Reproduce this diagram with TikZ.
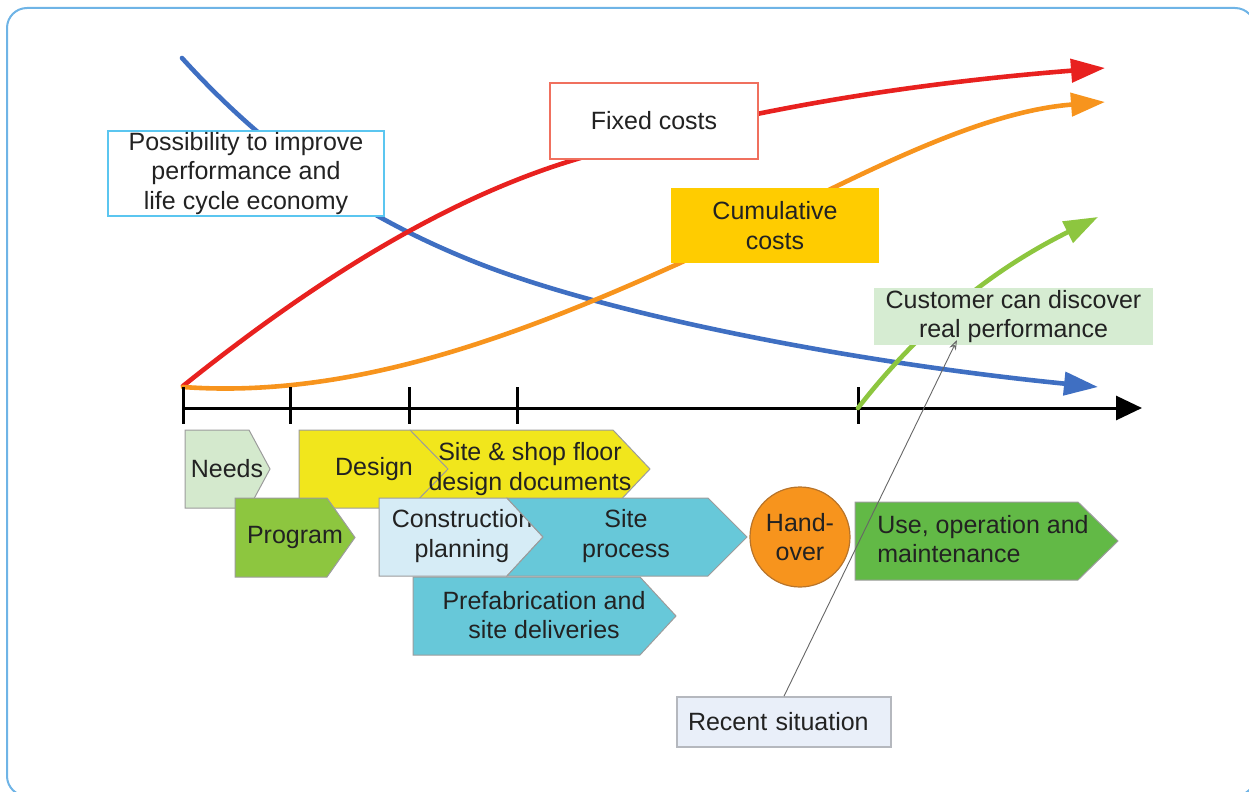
\documentclass[tikz,border=0pt]{standalone}
\usepackage{fontspec}
\setmainfont{Liberation Sans}
\usetikzlibrary{arrows.meta}

\definecolor{framecol}{HTML}{6FB4E6}
\definecolor{txt}{HTML}{222222}
\definecolor{cblue}{HTML}{3F6FC2}
\definecolor{cred}{HTML}{E8211F}
\definecolor{corange}{HTML}{F7941D}
\definecolor{cgreen}{HTML}{8DC63F}
\definecolor{possline}{HTML}{5BC6F0}
\definecolor{fixline}{HTML}{F0705E}
\definecolor{cumfill}{HTML}{FFCC00}
\definecolor{custfill}{HTML}{D6ECD2}
\definecolor{recfill}{HTML}{E9EFF9}
\definecolor{recline}{HTML}{B5B8BE}
\definecolor{needsfill}{HTML}{D4E9CD}
\definecolor{yellowfill}{HTML}{F1E61C}
\definecolor{progfill}{HTML}{8DC63F}
\definecolor{consfill}{HTML}{D6ECF6}
\definecolor{tealfill}{HTML}{67C8D9}
\definecolor{handfill}{HTML}{F7941D}
\definecolor{handline}{HTML}{B8742A}
\definecolor{usefill}{HTML}{62B946}
\definecolor{edge}{HTML}{9C9C9C}

\newcommand\labelfont{\fontsize{12.5}{14.8}\selectfont}

\begin{document}
\begin{tikzpicture}[x=0.5pt,y=-0.5pt,
  every node/.style={font=\labelfont, text=txt, inner sep=0pt},
  frame/.style={draw=framecol, line width=1pt, rounded corners=10pt},
  curve/.style={line width=2.3pt, line cap=round,
    -{Triangle[length=17pt,width=11.5pt]}},
  axisline/.style={line width=1.5pt, black,
    -{Triangle[length=13pt,width=12pt]}},
  tick/.style={line width=1.5pt, black},
  phase/.style={draw=edge, line width=0.5pt},
  labelbox/.style={rectangle, align=center, line width=0.8pt},
  leader/.style={draw=gray!80!black, line width=0.45pt,
    -{Stealth[length=5pt,width=3.5pt,open]}}
]
\clip (0,0) rectangle (1249,792);
\useasboundingbox (0,0) rectangle (1249,792);

% outer frame
\draw[frame] (7,8) rectangle (1255,796);

% cost and performance curves
\draw[curve, cblue] (182,58) .. controls (278,164) and (374,221) .. (470,260)
  .. controls (600,313) and (848,362) .. (1098,387);
\draw[curve, cred] (183,386) .. controls (314,281) and (446,198) .. (577,159)
  .. controls (753,106) and (929,82) .. (1105,68);
\draw[curve, corange] (183,387) .. controls (349,399) and (514,338) .. (680,263)
  .. controls (822,196) and (963,113) .. (1105,102);

% time axis with milestones
\coordinate (a0) at (182,408);
\coordinate (aend) at (1142,408);
\draw[axisline] (a0) -- (aend);
\foreach \x in {183,290,409,517,858}{
  \draw[tick] (\x,387) -- (\x,424);
}
\coordinate (g0) at (858,408);
\coordinate (g1) at (1098,217);
\draw[curve, cgreen] (g0) .. controls (938,305) and (1018,257) .. (g1);

% curve labels
\node[labelbox, draw=possline, fill=white, minimum width=138pt, minimum height=42.5pt]
  (poss) at (246,173.5) {Possibility to improve\\performance and\\life cycle economy};
\node[labelbox, draw=fixline, fill=white, minimum width=104pt, minimum height=38pt]
  (fixed) at (654,121) {Fixed costs};
\node[labelbox, fill=cumfill, minimum width=104pt, minimum height=37.5pt]
  (cum) at (775,225.5) {Cumulative\\costs};
\node[labelbox, fill=custfill, minimum width=139.5pt, minimum height=28.5pt]
  (cust) at (1013.5,316.5) {Customer can discover\\real performance};

% project phases
\filldraw[phase, fill=needsfill] (185,430) -- (249,430) -- (270,469) -- (249,508) -- (185,508) -- cycle;
\node (needs) at (227,469) {Needs};

\filldraw[phase, fill=yellowfill] (410,430) -- (613,430) -- (650,469) -- (613,508) -- (410,508) -- cycle;
\filldraw[phase, fill=yellowfill] (299,430) -- (410,430) -- (448,469) -- (410,508) -- (299,508) -- cycle;
\node (design) at (374,469) {Design};
\node[align=center] (shop) at (530,469) {Site \& shop floor\\design documents};

\filldraw[phase, fill=progfill] (235,498) -- (327,498) -- (355,537.5) -- (327,577) -- (235,577) -- cycle;
\node (program) at (295,537.5) {Program};

\filldraw[phase, fill=consfill] (379,498) -- (507,498) -- (543,537) -- (507,576) -- (379,576) -- cycle;
\node[align=center] (cons) at (462,536) {Construction\\planning};

\filldraw[phase, fill=tealfill] (507,498) -- (708,498) -- (747,537) -- (708,576) -- (507,576) -- (543,537) -- cycle;
\node[align=center] (siteproc) at (626,536) {Site\\process};

\filldraw[phase, fill=tealfill] (413,577) -- (640,577) -- (676,616) -- (640,655) -- (413,655) -- cycle;
\node[align=center] (prefab) at (544,615) {Prefabrication and\\site deliveries};

\node[circle, draw=handline, line width=0.6pt, fill=handfill, minimum size=50pt, align=center]
  (hand) at (800,537) {Hand-\\over};

\filldraw[phase, fill=usefill] (855,502) -- (1078,502) -- (1118,541) -- (1078,580) -- (855,580) -- cycle;
\node[anchor=west, align=left] (use) at (877,539) {Use, operation and\\maintenance};

% current state note
\node[labelbox, draw=recline, fill=recfill, minimum width=107pt, minimum height=25pt,
  text width=96pt, align=left, inner xsep=5.5pt]
  (recent) at (784,722) {Recent situation};
\coordinate (discover) at (957,340);
\draw[leader] (recent.north) -- (discover);
\end{tikzpicture}
\end{document}
